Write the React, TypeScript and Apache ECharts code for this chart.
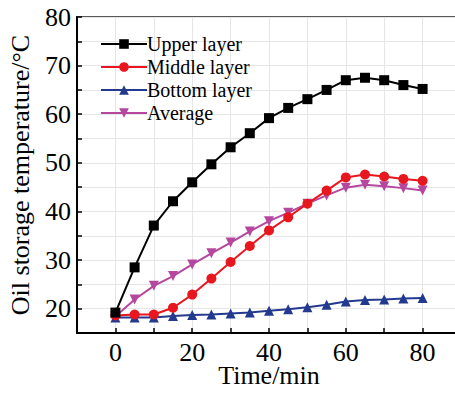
import React, { useEffect, useRef } from "react";
import * as echarts from "echarts";

const times = [0, 5, 10, 15, 20, 25, 30, 35, 40, 45, 50, 55, 60, 65, 70, 75, 80];
const upper = [19.2, 28.5, 37.1, 42.1, 46.0, 49.7, 53.2, 56.1, 59.2, 61.3, 63.1, 65.0, 67.0, 67.5, 67.0, 66.0, 65.2];
const middle = [18.6, 18.8, 18.8, 20.2, 22.9, 26.2, 29.6, 32.9, 36.1, 38.8, 41.6, 44.3, 47.0, 47.6, 47.2, 46.7, 46.3];
const bottom = [18.2, 18.2, 18.2, 18.5, 18.7, 18.8, 19.0, 19.2, 19.6, 19.9, 20.3, 20.8, 21.5, 21.8, 21.9, 22.1, 22.2];
const average = [18.4, 21.9, 24.7, 26.7, 29.1, 31.4, 33.6, 35.9, 38.0, 39.75, 41.6, 43.3, 44.9, 45.5, 45.2, 44.8, 44.3];

const seriesNames = ["Upper layer", "Middle layer", "Bottom layer", "Average"];
const colors = ["#000000", "#e8161e", "#233a8f", "#b5479f"];
const symbols = ["rect", "circle", "triangle", "path://M0,0 L10,0 L5,9 Z"];
const values = [upper, middle, bottom, average];

const FONT = "Liberation Serif";

export default function App() {
  const ref = useRef<HTMLDivElement>(null);
  useEffect(() => {
    if (!ref.current) return;
    const chart = echarts.init(ref.current, undefined, { renderer: "svg" });
    chart.setOption({
      animation: false,
      backgroundColor: "#ffffff",
      textStyle: { fontFamily: FONT },
      grid: {
        left: 77,
        right: -6,
        top: 17,
        bottom: 60,
        outerBoundsMode: "none",
        containLabel: false,
        show: true,
        borderColor: "#222",
        borderWidth: 1.5,
      },
      legend: {
        orient: "vertical",
        left: 95,
        top: 29,
        itemWidth: 46,
        itemHeight: 12,
        itemGap: 3,
        data: seriesNames,
        textStyle: { fontFamily: FONT, fontSize: 20, color: "#000", padding: [0, 0, 0, -5] },
      },
      xAxis: {
        type: "value",
        min: -10,
        max: 90,
        interval: 10,
        name: "Time/min",
        nameLocation: "middle",
        nameGap: 30,
        nameMoveOverlap: false,
        nameTextStyle: { fontFamily: FONT, fontSize: 26, lineHeight: 24, color: "#000" },
        axisLine: { show: true, onZero: false, lineStyle: { color: "#000", width: 2 } },
        axisTick: { show: true, inside: true, length: 5, lineStyle: { color: "#000", width: 1.5 } },
        axisLabel: {
          fontFamily: FONT,
          fontSize: 26,
          lineHeight: 20,
          color: "#000",
          margin: 9,
          formatter: (v: number) => (v >= 0 && v <= 80 && v % 20 === 0 ? String(v) : ""),
        },
        splitLine: { show: true, lineStyle: { color: "#e6e6e6", width: 1 } },
      },
      yAxis: {
        type: "value",
        min: 15,
        max: 80,
        interval: 5,
        name: "Oil storage temperature/°C",
        nameLocation: "middle",
        nameGap: 44,
        nameMoveOverlap: false,
        nameTextStyle: { fontFamily: FONT, fontSize: 26, color: "#000" },
        axisLine: { show: true, onZero: false, lineStyle: { color: "#000", width: 2 } },
        axisTick: { show: true, inside: true, length: 5, lineStyle: { color: "#000", width: 1.5 } },
        axisLabel: {
          fontFamily: FONT,
          fontSize: 26,
          color: "#000",
          margin: 6,
          formatter: (v: number) => (v % 10 === 0 ? String(v) : ""),
        },
        splitLine: { show: true, lineStyle: { color: "#e6e6e6", width: 1 } },
      },
      series: seriesNames.map((name, i) => ({
        name,
        type: "line",
        data: times.map((t, j) => [t, values[i][j]]),
        symbol: symbols[i],
        symbolSize: 10,
        showAllSymbol: true,
        itemStyle: { color: colors[i] },
        lineStyle: { color: colors[i], width: 2 },
        z: 10 - i,
      })),
    });
    return () => chart.dispose();
  }, []);
  return <div ref={ref} style={{ width: 455, height: 393, position: "absolute", left: 0, top: 0 }} />;
}
